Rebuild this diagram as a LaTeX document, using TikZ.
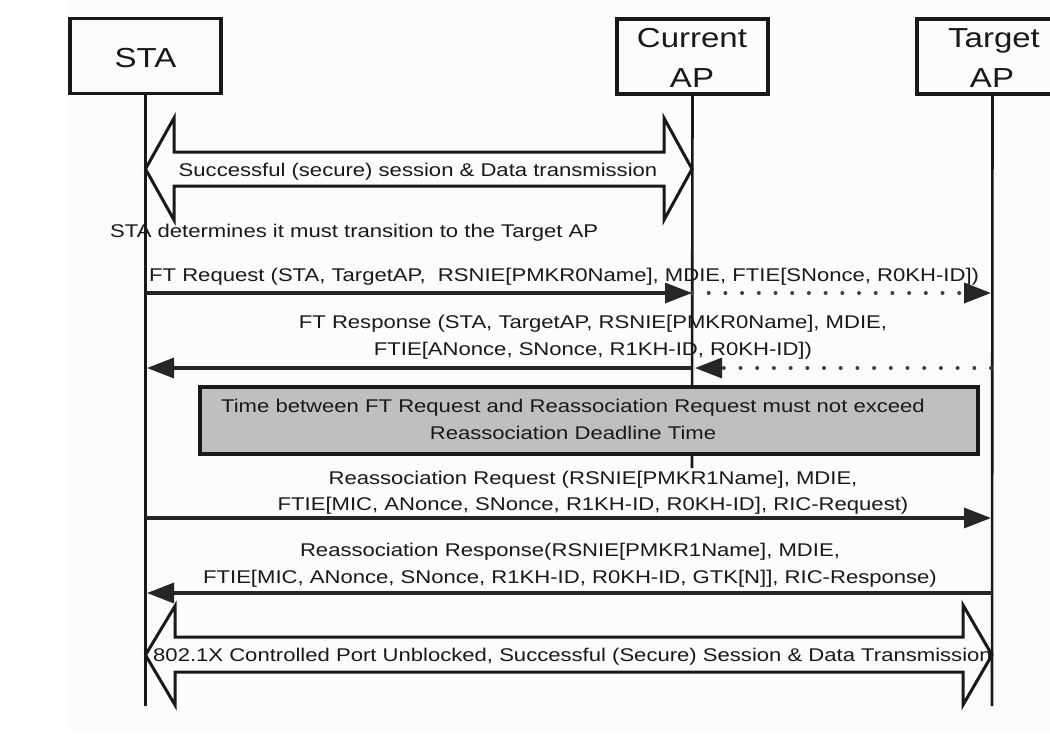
\documentclass[tikz,border=0pt]{standalone}
\usepackage{fontspec}
\setmainfont{Liberation Sans}[FakeStretch=1.2]
\usetikzlibrary{arrows.meta}
\begin{document}
\begin{tikzpicture}[x=1pt,y=-1pt,
  hdr/.style={draw=black!90, line width=3.5pt, minimum width=151pt, minimum height=75pt, inner sep=0pt},
  hdrtxt/.style={font=\fontsize{27.5}{40}\selectfont, text=black!90, inner sep=0pt, anchor=base},
  life/.style={line width=2.6pt, draw=black!90},
  msg/.style={line width=3.4pt, draw=black!85, -{Triangle[length=27pt,width=20pt]}},
  dotmsg/.style={line width=4pt, line cap=round, dash pattern=on 0pt off 16.7pt, draw=black!75},
  lbl/.style={font=\fontsize{18.4}{27}\selectfont, text=black!90, inner sep=0pt, anchor=base},
  blockarrow/.style={draw=black!90, line width=3pt, line join=miter},
  greybox/.style={draw=black!90, line width=3.5pt, fill=black!25, minimum width=778pt, minimum height=67pt, inner sep=0pt},
]
\useasboundingbox (0,0) rectangle (1050,742);
\fill[black!1] (67,0) rectangle (1050,730);

% header boxes
\node[hdr] (sta) at (145.5,56) {};
\node[hdr] (cap) at (692.5,56.5) {};
\node[hdr] (tap) at (992.5,56.5) {};
\node[hdrtxt] (staL) at (145.5,67) {STA};
\node[hdrtxt] (capL1) at (692,47) {Current};
\node[hdrtxt] (capL2) at (692,87) {AP};
\node[hdrtxt] (tapL1) at (994,47) {Target};
\node[hdrtxt] (tapL2) at (992,87) {AP};

% lifeline ends
\coordinate (staEnd) at (145.5,706);
\coordinate (capEnd) at (692,468);
\coordinate (tapEnd) at (992,706);
\draw[life] (sta.south) -- (staEnd);
\draw[life] (cap.south) -- (capEnd);
\draw[life] (tap.south) -- (tapEnd);

% first block arrow
\draw[blockarrow] (145.5,169) -- (174,118) -- (174,152) -- (664,152) -- (664,118) -- (692,169)
  -- (664,220) -- (664,186) -- (174,186) -- (174,220) -- cycle;
\node[lbl] (sess1) at (418,176) {Successful (secure) session \& Data transmission};

\node[lbl, anchor=base west] (determ) at (110,237) {STA determines it must transition to the Target AP};

% FT Request
\coordinate (staA) at (145.5,293);
\coordinate (capA) at (692,293);
\coordinate (tapA) at (991,293);
\coordinate (tapAd) at (964,293);
\node[lbl, anchor=base west] (ftreq) at (149,281) {FT Request (STA, TargetAP,\ \ RSNIE[PMKR0Name], MDIE, FTIE[SNonce, R0KH-ID])};
\draw[msg] (staA) -- (capA);
\draw[dotmsg] (capA) -- (tapAd);
\draw[msg] (tapAd) -- (tapA);

% FT Response
\node[lbl] (ftrsp1) at (593,328) {FT Response (STA, TargetAP, RSNIE[PMKR0Name], MDIE,};
\node[lbl] (ftrsp2) at (593,355) {FTIE[ANonce, SNonce, R1KH-ID, R0KH-ID])};
\coordinate (tapB) at (991,368);
\coordinate (capBd) at (722,368);
\coordinate (capBt) at (695,368);
\coordinate (capB) at (692,368);
\coordinate (staB) at (147,368);
\draw[dotmsg] (tapB) -- (capBd);
\draw[msg] (capBd) -- (capBt);
\draw[msg] (capB) -- (staB);

% deadline box
\node[greybox] (deadline) at (589,420.5) {};
\node[lbl] (dl1) at (573,412) {Time between FT Request and Reassociation Request must not exceed};
\node[lbl] (dl2) at (573,439) {Reassociation Deadline Time};

% Reassociation Request
\node[lbl] (rreq1) at (593,484) {Reassociation Request (RSNIE[PMKR1Name], MDIE,};
\node[lbl] (rreq2) at (593,510.5) {FTIE[MIC, ANonce, SNonce, R1KH-ID, R0KH-ID], RIC-Request)};
\coordinate (staC) at (145.5,518);
\coordinate (tapC) at (991,518);
\draw[msg] (staC) -- (tapC);

% Reassociation Response
\node[lbl] (rrsp1) at (570,556) {Reassociation Response(RSNIE[PMKR1Name], MDIE,};
\node[lbl] (rrsp2) at (570,583.5) {FTIE[MIC, ANonce, SNonce, R1KH-ID, R0KH-ID, GTK[N]], RIC-Response)};
\coordinate (tapD) at (992,593);
\coordinate (staD) at (147,593);
\draw[msg] (tapD) -- (staD);

% second block arrow
\draw[blockarrow] (145.5,655) -- (175,606) -- (175,637) -- (963,637) -- (963,605) -- (992,655)
  -- (963,705) -- (963,672) -- (175,672) -- (175,705) -- cycle;
\begin{scope}
\clip (145,600) rectangle (992,710);
\node[lbl, anchor=base west] (sess2) at (153,661) {802.1X Controlled Port Unblocked, Successful (Secure) Session \& Data Transmission};
\end{scope}
\end{tikzpicture}
\end{document}
